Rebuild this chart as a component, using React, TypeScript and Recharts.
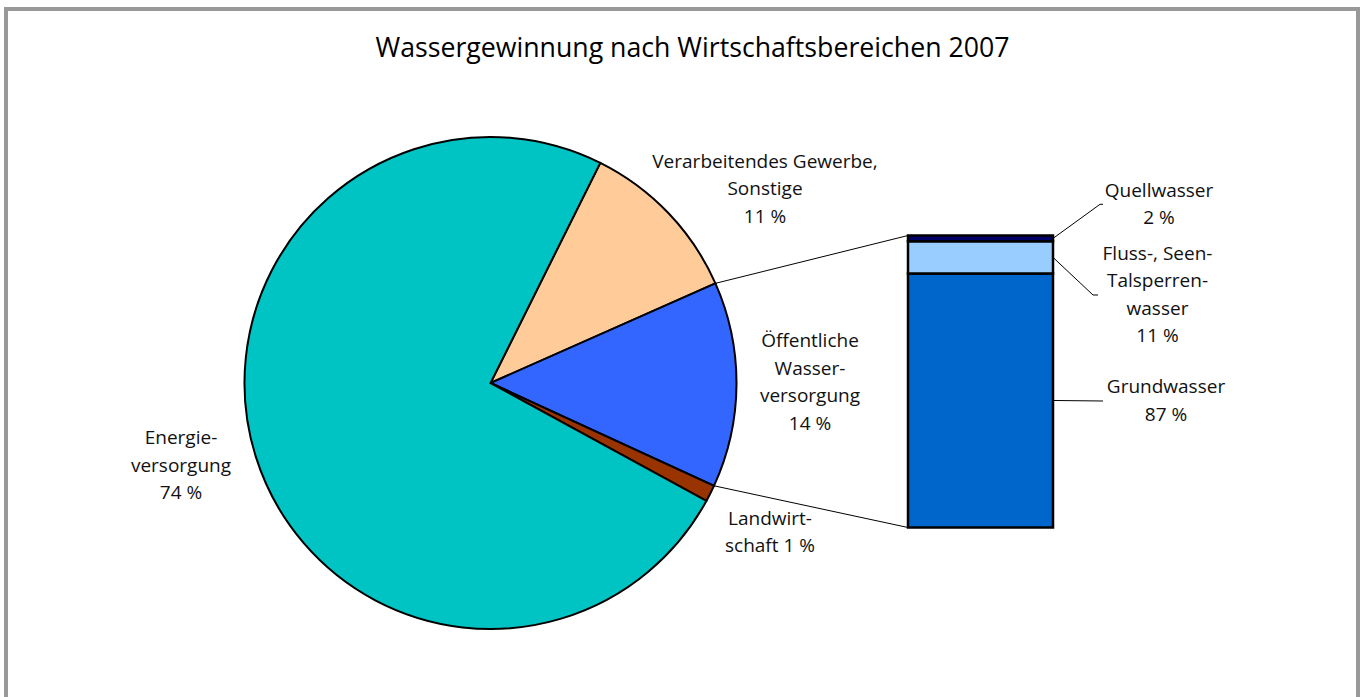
import React from "react";
import { PieChart, Pie, Cell, BarChart, Bar, XAxis, YAxis } from "recharts";

const W = 1363;
const H = 697;
const FONT = "'Open Sans', 'Noto Sans', sans-serif";
const LABEL_SIZE = 19;
const LINE_H = 27.4;

// pie: water abstraction by sector (share in %)
const pieNames = [
  "Verarbeitendes Gewerbe, Sonstige",
  "Öffentliche Wasserversorgung",
  "Landwirtschaft",
  "Energieversorgung",
];
const pieValues = [11.0, 13.5, 1.1, 74.4];
const pieColors = ["#FFCC99", "#3366FF", "#993300", "#00C4C4"];
const pieLabelLines = [
  ["Verarbeitendes Gewerbe,", "Sonstige", "11 %"],
  ["Öffentliche", "Wasser-", "versorgung", "14 %"],
  ["Landwirt-", "schaft 1 %"],
  ["Energie-", "versorgung", "74 %"],
];

// bar: public supply broken down by source (share in %)
const barNames = ["Grundwasser", "Fluss-, Seen-, Talsperrenwasser", "Quellwasser"];
const barKeys = ["grund", "fluss", "quell"];
const barValues = [87, 11, 2];
const barColors = ["#0066CC", "#99CCFF", "#000066"];
const barLabelLines = [
  ["Grundwasser", "87 %"],
  ["Fluss-, Seen-", "Talsperren-", "wasser", "11 %"],
  ["Quellwasser", "2 %"],
];

// layout
const PIE_CX = 490.5;
const PIE_CY = 383;
const PIE_R = 246;
const PIE_START = 63.5;
const BAR_X0 = 908;
const BAR_X1 = 1052.5;
const BAR_Y0 = 235.5;
const BAR_Y1 = 527.5;
const EXPLODED = 1; // index of the pie slice that the bar breaks down

const pieLabelPos = [
  { x: 765, y: 168 },
  { x: 810, y: 347.3 },
  { x: 770, y: 525 },
  { x: 181, y: 444.3 },
];
const barLabelPos = [
  { x: 1166, y: 393.3 },
  { x: 1157.5, y: 260 },
  { x: 1159, y: 196.7 },
];
// where the leader lines from the bar end, plus a short horizontal tick
const barLeaderEnd = [
  { x: 1103, y: 401, tick: 0 },
  { x: 1093, y: 295, tick: 5 },
  { x: 1100, y: 204.3, tick: 3 },
];

const pieData = pieNames.map((name, i) => ({ name, value: pieValues[i] }));
const barRow: Record<string, string | number> = { name: "Öffentliche Wasserversorgung" };
barKeys.forEach((k, i) => {
  barRow[k] = barValues[i];
});
const barData = [barRow];

const pieTotal = pieValues.reduce((a, b) => a + b, 0);
const sliceAngle = (i: number) =>
  PIE_START - (pieValues.slice(0, i).reduce((a, b) => a + b, 0) / pieTotal) * 360;
const polar = (deg: number) => ({
  x: PIE_CX + PIE_R * Math.cos((deg * Math.PI) / 180),
  y: PIE_CY - PIE_R * Math.sin((deg * Math.PI) / 180),
});

const MultiLine = ({ x, y, lines }: { x: number; y: number; lines: string[] }) => (
  <text
    x={x}
    y={y}
    textAnchor="middle"
    fontFamily={FONT}
    fontSize={LABEL_SIZE}
    fill="#111"
  >
    {lines.map((l, i) => (
      <tspan key={i} x={x} dy={i === 0 ? 0 : LINE_H}>
        {l}
      </tspan>
    ))}
  </text>
);

const renderPieLabel = (props: any) => {
  const i = props.index;
  const p = pieLabelPos[i];
  return <MultiLine key={`pl-${i}`} x={p.x} y={p.y} lines={pieLabelLines[i]} />;
};

const makeBarLabel = (i: number) => (props: any) => {
  const { x, y, width, height } = props;
  const sx = Number(x) + Number(width);
  const sy = Number(y) + Number(height) / 2;
  const end = barLeaderEnd[i];
  const p = barLabelPos[i];
  return (
    <g key={`bl-${i}`}>
      <polyline
        points={`${sx},${sy} ${end.x},${end.y} ${end.x + end.tick},${end.y}`}
        fill="none"
        stroke="#000"
        strokeWidth={1}
      />
      <MultiLine x={p.x} y={p.y} lines={barLabelLines[i]} />
    </g>
  );
};

export default function App() {
  const a0 = polar(sliceAngle(EXPLODED));
  const a1 = polar(sliceAngle(EXPLODED + 1));
  return (
    <div
      style={{
        position: "absolute",
        left: 0,
        top: 0,
        width: W,
        height: H,
        background: "#fff",
        overflow: "hidden",
      }}
    >
      <div
        style={{
          position: "absolute",
          left: 4,
          top: 7,
          width: 1356,
          height: 760,
          border: "4px solid #999",
          boxSizing: "border-box",
        }}
      />
      <div style={{ position: "absolute", left: 0, top: 0 }}>
        <PieChart width={W} height={H} margin={{ top: 0, right: 0, bottom: 0, left: 0 }}>
          <Pie
            data={pieData}
            dataKey="value"
            nameKey="name"
            cx={PIE_CX}
            cy={PIE_CY}
            outerRadius={PIE_R}
            startAngle={PIE_START}
            endAngle={PIE_START - 360}
            stroke="#000"
            strokeWidth={2}
            label={renderPieLabel}
            labelLine={false}
            isAnimationActive={false}
          >
            {pieData.map((d, i) => (
              <Cell key={d.name} fill={pieColors[i]} />
            ))}
          </Pie>
        </PieChart>
      </div>
      <div style={{ position: "absolute", left: 0, top: 0 }}>
        <BarChart
          width={W}
          height={H}
          data={barData}
          barCategoryGap={0}
          barGap={0}
          margin={{ top: BAR_Y0, bottom: H - BAR_Y1, left: BAR_X0, right: W - BAR_X1 }}
        >
          <XAxis dataKey="name" hide />
          <YAxis hide domain={[0, 100]} />
          {barKeys.map((k, i) => (
            <Bar
              key={k}
              dataKey={k}
              name={barNames[i]}
              stackId="a"
              fill={barColors[i]}
              stroke="#000"
              strokeWidth={2.5}
              label={makeBarLabel(i)}
              isAnimationActive={false}
            />
          ))}
        </BarChart>
      </div>
      <svg
        width={W}
        height={H}
        style={{ position: "absolute", left: 0, top: 0, pointerEvents: "none" }}
      >
        <text
          x={692.5}
          y={57}
          textAnchor="middle"
          fontFamily={FONT}
          fontSize={26.7}
          fill="#000"
        >
          Wassergewinnung nach Wirtschaftsbereichen 2007
        </text>
        <line x1={a0.x} y1={a0.y} x2={BAR_X0} y2={BAR_Y0} stroke="#000" strokeWidth={1} />
        <line x1={a1.x} y1={a1.y} x2={BAR_X0} y2={BAR_Y1} stroke="#000" strokeWidth={1} />
      </svg>
    </div>
  );
}
